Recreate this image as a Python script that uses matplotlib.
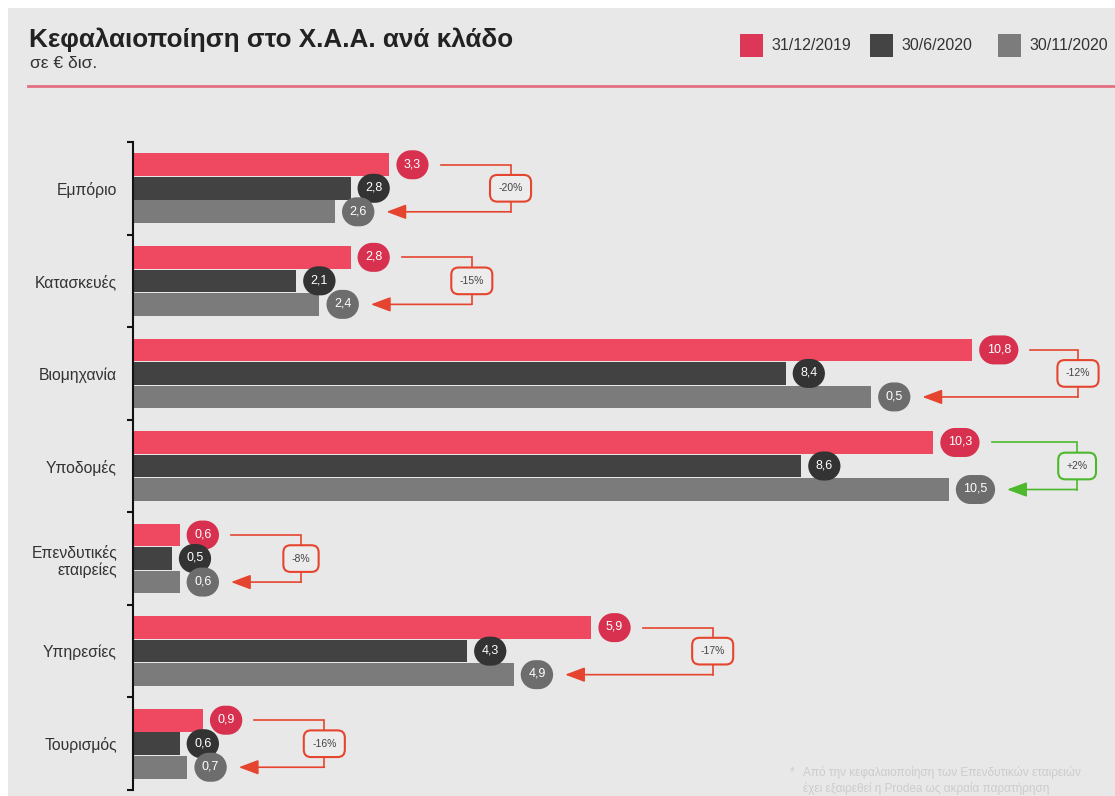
import matplotlib
matplotlib.use('Agg')
import numpy as np
import matplotlib.pyplot as plt
from matplotlib.patches import Rectangle, PathPatch
from matplotlib.path import Path
from matplotlib.lines import Line2D
from matplotlib.transforms import IdentityTransform

plt.rcParams['font.family'] = ['Liberation Sans', 'DejaVu Sans']

# ---------------- data ----------------
categories = ['Εμπόριο', 'Κατασκευές', 'Βιομηχανία', 'Υποδομές',
              'Επενδυτικές\nεταιρείες', 'Υπηρεσίες', 'Τουρισμός']
series_names = ['31/12/2019', '30/6/2020', '30/11/2020']
v_2019_12 = [3.3, 2.8, 10.8, 10.3, 0.6, 5.9, 0.9]
v_2020_06 = [2.8, 2.1, 8.4, 8.6, 0.5, 4.3, 0.6]
v_2020_11 = [2.6, 2.4, 9.5, 10.5, 0.6, 4.9, 0.7]
lbl_2019_12 = ['3,3', '2,8', '10,8', '10,3', '0,6', '5,9', '0,9']
lbl_2020_06 = ['2,8', '2,1', '8,4', '8,6', '0,5', '4,3', '0,6']
lbl_2020_11 = ['2,6', '2,4', '0,5', '10,5', '0,6', '4,9', '0,7']
changes = ['-20%', '-15%', '-12%', '+2%', '-8%', '-17%', '-16%']

# ---------------- styles ----------------
W, H = 1115, 796
BG = '#e8e8e8'
bar_cols = ['#ef4961', '#424242', '#7b7b7b']
bub_cols = ['#d8314f', '#333333', '#6d6d6d']
leg_cols = ['#dc3757', '#444444', '#7c7c7c']
RED_LINE = '#e5452f'
GREEN_LINE = '#4cb82c'

def fx(px):
    return px / W

def fy(py):
    return 1 - py / H

def pill_path(cx, cy, w, h):
    w = max(w, h)
    rr = h / 2
    a = Path.arc(90, 270)
    b = Path.arc(-90, 90)
    lv = a.vertices * rr + np.array([cx - w / 2 + rr, cy])
    rv = b.vertices * rr + np.array([cx + w / 2 - rr, cy])
    verts = np.concatenate([lv, rv, lv[:1]])
    codes = ([Path.MOVETO] + list(a.codes[1:]) + [Path.LINETO] +
             list(b.codes[1:]) + [Path.CLOSEPOLY])
    return Path(verts, codes)

fig = plt.figure(figsize=(W / 100, H / 100), dpi=100)
fig.patch.set_facecolor('white')
fig.patches.append(Rectangle((fx(8), 0), 1 - fx(8), fy(8), transform=fig.transFigure,
                             facecolor=BG, edgecolor='none', zorder=-10))

# header
fig.text(fx(29), fy(40), 'Κεφαλαιοποίηση στο Χ.Α.Α. ανά κλάδο', fontsize=18.8,
         fontweight='bold', color='#222222', ha='left', va='center')
fig.text(fx(30), fy(64), 'σε € δισ.', fontsize=12.5, color='#333333', ha='left', va='center')
fig.add_artist(Line2D([fx(28), 1], [fy(86), fy(86)], transform=fig.transFigure,
                      color='#e46f80', lw=2))

# legend
leg_x = [740, 870, 998]
for x0, name, c in zip(leg_x, series_names, leg_cols):
    fig.patches.append(Rectangle((fx(x0), fy(57)), 23 / W, 23 / H, transform=fig.transFigure,
                                 facecolor=c, edgecolor='none'))
    fig.text(fx(x0 + 31), fy(45.5), name, fontsize=11.5, color='#333333', ha='left', va='center')

# footnote
fig.text(fx(790), fy(772), '*', fontsize=8.5, color='#cccccc', ha='left', va='center')
fig.text(fx(803), fy(766), 'Από την κεφαλαιοποίηση των Επενδυτικών εταιρειών\n'
         'έχει εξαιρεθεί η Prodea ως ακραία παρατήρηση',
         fontsize=8.5, color='#cccccc', ha='left', va='top', linespacing=1.3)

# axes
ax_left, ax_right, ax_top, ax_bot = 133, 1105, 142, 790
ax = fig.add_axes([fx(ax_left), fy(ax_bot), (ax_right - ax_left) / W, (ax_bot - ax_top) / H])
ax.patch.set_alpha(0)
XMAX = (ax_right - ax_left) / 77.7
ax.set_xlim(0, XMAX)
ax.set_ylim(len(categories) - 0.5, -0.5)

for s in ['top', 'right', 'bottom']:
    ax.spines[s].set_visible(False)
ax.spines['left'].set_linewidth(1.5)
ax.spines['left'].set_color('#111111')
ax.set_xticks([])
ax.set_yticks([i - 0.5 for i in range(len(categories) + 1)])
ax.set_yticklabels([])
ax.tick_params(axis='y', which='major', length=4, width=1.5, color='#111111')
ax.set_yticks(range(len(categories)), minor=True)
ax.set_yticklabels(categories, minor=True, fontsize=11.3, color='#333333')
ax.tick_params(axis='y', which='minor', length=0, pad=11.5)

series = [v_2019_12, v_2020_06, v_2020_11]
labels = [lbl_2019_12, lbl_2020_06, lbl_2020_11]
offsets = [-0.254, 0.0, 0.254]
bh = 0.245

texts = [[None] * len(categories) for _ in range(3)]
for k in range(3):
    ys = [i + offsets[k] for i in range(len(categories))]
    ax.barh(ys, series[k], height=bh, color=bar_cols[k], zorder=2)
    for i, (v, lb) in enumerate(zip(series[k], labels[k])):
        t = ax.annotate(lb, xy=(v, ys[i]), xytext=(0, 0), textcoords='offset points',
                        ha='center', va='center', fontsize=9, color='white',
                        zorder=7 + 2 * k)
        texts[k][i] = t

fig.canvas.draw()
r = fig.canvas.get_renderer()
inv = ax.transData.inverted()

GAP = 7      # px between bar end and bubble
BH_PX = 29   # bubble height in px
right_px = [[None] * len(categories) for _ in range(3)]
for k in range(3):
    for i in range(len(categories)):
        t = texts[k][i]
        w = t.get_window_extent(r).width
        bw = max(w + 15, BH_PX + 2)
        x_end, y_c = ax.transData.transform((series[k][i], i + offsets[k]))
        cx = x_end + GAP + bw / 2
        t.xyann = ((GAP + bw / 2) * 72 / fig.dpi, 0.5)
        patch = PathPatch(pill_path(cx, y_c, bw, BH_PX), transform=IdentityTransform(),
                          facecolor=bub_cols[k], edgecolor='none', zorder=6 + 2 * k)
        ax.add_artist(patch)
        right_px[k][i] = cx + bw / 2

bx_limit = 1078
for i, chg in enumerate(changes):
    col = GREEN_LINE if chg.startswith('+') else RED_LINE
    red_r = right_px[0][i]
    gray_r = right_px[2][i]
    start = inv.transform((red_r + 12, 0))[0]
    tip = inv.transform((gray_r + 12, 0))[0]
    bx = inv.transform((min(max(red_r, gray_r) + 82, bx_limit), 0))[0]
    y_top = i + offsets[0]
    y_bot = i + offsets[2]
    ax.plot([start, bx, bx], [y_top, y_top, y_bot], color=col, lw=1.2, zorder=4,
            solid_joinstyle='miter', clip_on=False)
    ax.annotate('', xy=(tip, y_bot), xytext=(bx, y_bot),
                arrowprops=dict(arrowstyle='-|>,head_length=0.4,head_width=0.15',
                                mutation_scale=30, color=col, lw=1.2,
                                shrinkA=0, shrinkB=0), zorder=4)
    ax.text(bx, i, chg, ha='center', va='center', fontsize=7.5, color='#444444', zorder=5,
            bbox=dict(boxstyle='round,pad=0.8,rounding_size=0.7', fc='#ececec',
                      ec=col, lw=1.5))

fig.savefig('out.png', dpi=100)
